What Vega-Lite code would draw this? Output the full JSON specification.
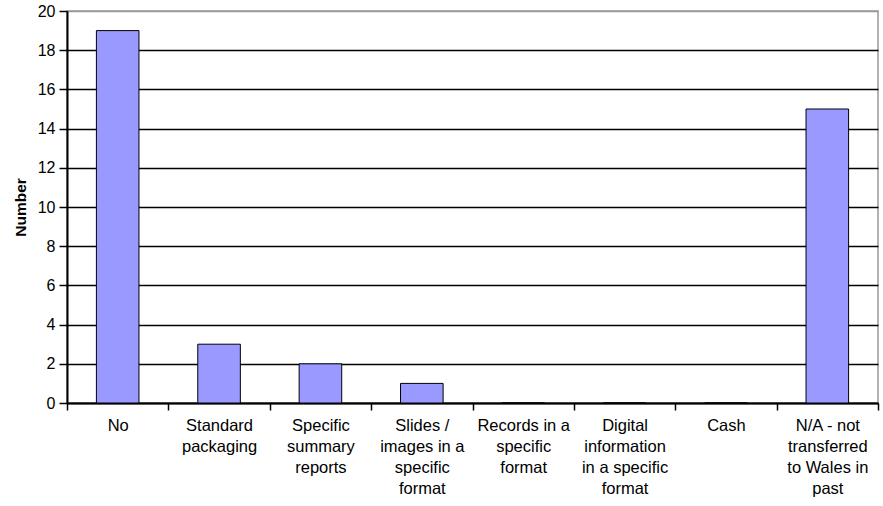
{
  "$schema": "https://vega.github.io/schema/vega-lite/v6.json",
  "width": 811,
  "height": 392,
  "autosize": {"type": "none"},
  "padding": {"left": 67, "top": 11, "right": 5, "bottom": 103},
  "background": "white",
  "config": {
    "font": "Liberation Sans",
    "view": {"stroke": "#999999", "strokeWidth": 1.5}
  },
  "data": {
    "values": [
      {"category": "No", "count": 19},
      {"category": "Standard|packaging", "count": 3},
      {"category": "Specific|summary|reports", "count": 2},
      {"category": "Slides /|images in a|specific|format", "count": 1},
      {"category": "Records in a|specific|format", "count": 0},
      {"category": "Digital|information|in a specific|format", "count": 0},
      {"category": "Cash", "count": 0},
      {"category": "N/A - not|transferred|to Wales in|past", "count": 15}
    ]
  },
  "mark": {"type": "bar", "color": "#9999FF", "stroke": "black", "strokeWidth": 1, "width": {"band": 0.42}},
  "encoding": {
    "x": {
      "field": "category",
      "type": "nominal",
      "sort": null,
      "scale": {"paddingInner": 0, "paddingOuter": 0},
      "axis": {
        "title": null,
        "labelAngle": 0,
        "labelExpr": "split(datum.label, '|')",
        "labelFontSize": 16.5,
        "labelColor": "black",
        "labelLineHeight": 21,
        "labelPadding": 7,
        "labelLimit": 200,
        "tickBand": "extent",
        "tickColor": "black",
        "tickSize": 7,
        "tickWidth": 1.5,
        "domainColor": "black",
        "domainWidth": 2
      }
    },
    "y": {
      "field": "count",
      "type": "quantitative",
      "scale": {"domain": [0, 20], "nice": false},
      "axis": {
        "title": "Number",
        "titleFontSize": 15.5,
        "titleFontWeight": "bold",
        "titleColor": "black",
        "titlePadding": 9,
        "values": [0, 2, 4, 6, 8, 10, 12, 14, 16, 18, 20],
        "labelFontSize": 16,
        "labelColor": "black",
        "labelPadding": 4,
        "tickColor": "black",
        "tickSize": 8,
        "tickWidth": 1.5,
        "domainColor": "black",
        "domainWidth": 2,
        "grid": true,
        "gridColor": {"condition": {"test": "datum.value == 20", "value": "#999999"}, "value": "black"},
        "gridWidth": 1.5,
        "gridOpacity": 1
      }
    }
  }
}
